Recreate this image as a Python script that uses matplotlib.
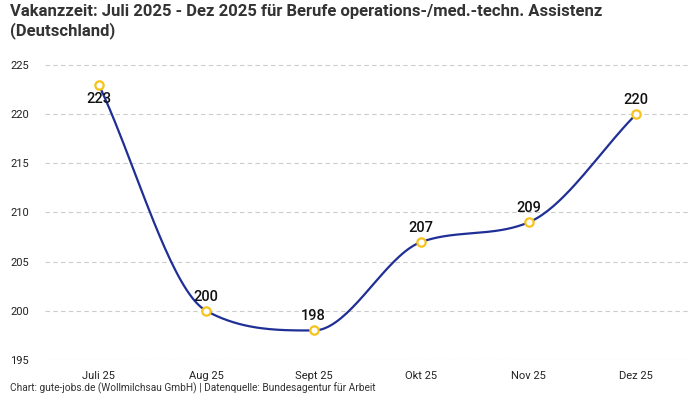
import numpy as np
import matplotlib
matplotlib.use("Agg")
import matplotlib.pyplot as plt

plt.rcParams['font.family'] = ['Roboto', 'DejaVu Sans']

months = ["Juli 25", "Aug 25", "Sept 25", "Okt 25", "Nov 25", "Dez 25"]
days = [223, 200, 198, 207, 209, 220]
title = "Vakanzzeit: Juli 2025 - Dez 2025 für Berufe operations-/med.-techn. Assistenz\n(Deutschland)"
footer = "Chart: gute-jobs.de (Wollmilchsau GmbH) | Datenquelle: Bundesagentur für Arbeit"

line_col = "#1f2f96"
dot_col = "#f7c21a"


def monotone_curve(x, y, n=40):
    # monotone cubic like chart.js cubicInterpolationMode "monotone"
    x = np.asarray(x, float)
    y = np.asarray(y, float)
    d = np.diff(y) / np.diff(x)
    m = np.zeros_like(y)
    m[0], m[-1] = d[0], d[-1]
    for i in range(1, len(y) - 1):
        if d[i - 1] * d[i] <= 0:
            m[i] = 0
        else:
            m[i] = (d[i - 1] + d[i]) / 2
    for i in range(len(d)):
        if d[i] == 0:
            m[i] = m[i + 1] = 0
            continue
        a = m[i] / d[i]
        b = m[i + 1] / d[i]
        sq = a * a + b * b
        if sq > 9:
            tau = 3 / np.sqrt(sq)
            m[i] = a * tau * d[i]
            m[i + 1] = b * tau * d[i]
    xs, ys = [], []
    for i in range(len(x) - 1):
        h = x[i + 1] - x[i]
        t = np.linspace(0, 1, n)
        h00 = 2 * t**3 - 3 * t**2 + 1
        h10 = t**3 - 2 * t**2 + t
        h01 = -2 * t**3 + 3 * t**2
        h11 = t**3 - t**2
        xs.append(x[i] + t * h)
        ys.append(h00 * y[i] + h10 * h * m[i] + h01 * y[i + 1] + h11 * h * m[i + 1])
    return np.concatenate(xs), np.concatenate(ys)


fig = plt.figure(figsize=(7, 4), dpi=100)
ax = fig.add_axes([45 / 700, 0.1, 645 / 700, 0.75])

pos = np.arange(len(months))
cx, cy = monotone_curve(pos, days)
ax.plot(cx, cy, color=line_col, lw=1.6, zorder=2)
ax.scatter(pos, days, s=36, facecolor="white", edgecolor=dot_col, linewidth=1.6, zorder=3)

for i, v in enumerate(days):
    off = -14 if i == 0 else 14
    ax.annotate(str(v), (i, v), xytext=(0, off), textcoords="offset pixels",
                ha="center", va="center", fontsize=10.5, fontweight="medium", color="#111111")

ax.set_xlim(-0.5, len(months) - 0.5)
ax.set_ylim(195, 225.5)
ax.set_yticks(np.arange(195, 226, 5))
ax.set_xticks(pos)
ax.set_xticklabels(months)
ax.tick_params(length=0, labelsize=8, colors="#222222")
ax.tick_params(axis="x", pad=8)
ax.tick_params(axis="y", pad=25)
for lbl in ax.get_yticklabels():
    lbl.set_horizontalalignment("left")
ax.grid(axis="y", color="#cccccc", linestyle=(0, (4, 3)), lw=0.8)
ax.set_axisbelow(True)
for s in ax.spines.values():
    s.set_visible(False)

fig.text(10 / 700, 1 - 4 / 400, title, ha="left", va="top", fontsize=12, fontweight="bold",
         color="#333333", linespacing=1.25)
fig.text(10 / 700, 6 / 400, footer, ha="left", va="bottom", fontsize=7.3, color="#333333")

fig.savefig("out.png", dpi=100)
